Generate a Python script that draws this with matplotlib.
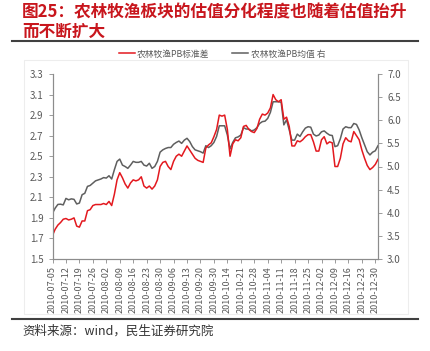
import matplotlib.pyplot as plt
from matplotlib.lines import Line2D
from matplotlib.patches import Rectangle
import numpy as np

plt.rcParams['font.family'] = ['Noto Sans CJK SC', 'DejaVu Sans']

# weekly tick labels on a trading-day axis (one label every 5 trading days)
tick_dates = ['2010-07-05', '2010-07-12', '2010-07-19', '2010-07-26', '2010-08-02',
              '2010-08-09', '2010-08-16', '2010-08-23', '2010-08-30', '2010-09-06',
              '2010-09-13', '2010-09-20', '2010-09-30', '2010-10-14', '2010-10-21',
              '2010-10-28', '2010-11-04', '2010-11-11', '2010-11-18', '2010-11-25',
              '2010-12-02', '2010-12-09', '2010-12-16', '2010-12-23', '2010-12-30']

# PB standard deviation (left axis), one value per trading day
pb_std = [1.73, 1.79, 1.83, 1.855, 1.887, 1.894, 1.88, 1.887, 1.90, 1.82,
          1.81, 1.87, 1.87, 1.97, 1.98, 2.02, 2.03, 2.03, 2.03, 2.04,
          2.03, 2.06, 2.02, 2.13, 2.27, 2.34, 2.29, 2.23, 2.19, 2.24,
          2.27, 2.26, 2.27, 2.30, 2.21, 2.19, 2.21, 2.18, 2.21, 2.27,
          2.40, 2.44, 2.45, 2.40, 2.37, 2.45, 2.50, 2.52, 2.50, 2.55,
          2.60, 2.56, 2.52, 2.48, 2.46, 2.45, 2.44, 2.58, 2.61, 2.63,
          2.69, 2.76, 2.90, 2.89, 2.90, 2.76, 2.50, 2.62, 2.66, 2.65,
          2.68, 2.79, 2.80, 2.76, 2.74, 2.73, 2.77, 2.86, 2.91, 2.90,
          2.92, 2.97, 3.10, 3.05, 3.03, 3.05, 2.86, 2.88, 2.79, 2.60,
          2.60, 2.65, 2.64, 2.66, 2.69, 2.71, 2.71, 2.64, 2.55, 2.55,
          2.66, 2.69, 2.62, 2.64, 2.63, 2.40, 2.40, 2.48, 2.62, 2.68,
          2.65, 2.64, 2.74, 2.70, 2.66, 2.56, 2.48, 2.41, 2.37, 2.39,
          2.42, 2.47]

# PB mean (right axis)
pb_mean = [3.99, 4.10, 4.18, 4.185, 4.17, 4.31, 4.28, 4.30, 4.29, 4.19,
           4.21, 4.39, 4.42, 4.57, 4.59, 4.64, 4.69, 4.71, 4.73, 4.76,
           4.75, 4.80, 4.73, 4.93, 5.11, 5.16, 5.03, 5.00, 4.96, 5.03,
           5.11, 5.09, 5.09, 5.11, 5.03, 5.01, 5.07, 4.96, 5.00, 5.11,
           5.31, 5.36, 5.39, 5.41, 5.41, 5.48, 5.52, 5.55, 5.50, 5.57,
           5.61, 5.54, 5.43, 5.36, 5.34, 5.32, 5.29, 5.45, 5.41, 5.45,
           5.52, 5.65, 5.88, 5.88, 5.88, 5.68, 5.38, 5.52, 5.62, 5.64,
           5.68, 5.84, 5.81, 5.81, 5.77, 5.79, 5.84, 5.93, 5.97, 5.98,
           6.04, 6.17, 6.40, 6.40, 6.40, 6.39, 5.90, 6.01, 5.79, 5.57,
           5.57, 5.70, 5.65, 5.75, 5.83, 5.86, 5.85, 5.70, 5.66, 5.68,
           5.75, 5.77, 5.72, 5.68, 5.67, 5.43, 5.45, 5.60, 5.81, 5.86,
           5.84, 5.84, 5.93, 5.91, 5.79, 5.62, 5.47, 5.32, 5.25, 5.31,
           5.34, 5.45]

RED = '#e3191f'
GRAY = '#5f5f5f'
TXT = '#595959'
AX = '#8c8c8c'

x = np.arange(len(pb_std))

fig = plt.figure(figsize=(4.3, 3.51), dpi=100)

# faint chart frame
fig.add_artist(Rectangle((24/430, 1-314/351), 384/430, 254/351, transform=fig.transFigure,
                         fill=False, edgecolor='#ededed', lw=0.8))

ax = fig.add_axes([52.5/430, 1-259/351, 325.5/430, 185/351])
ax2 = ax.twinx()

l1, = ax.plot(x, pb_std, color=RED, lw=1.1)
l2, = ax2.plot(x, pb_mean, color=GRAY, lw=1.1)
ax.set_zorder(ax2.get_zorder() + 1)
ax.patch.set_visible(False)

ax.set_xlim(0, len(x) - 1)
ax.set_ylim(1.5, 3.3)
ax.set_yticks(np.arange(1.5, 3.31, 0.2))
ax.set_yticklabels([f'{v:.1f}' for v in np.arange(1.5, 3.31, 0.2)])
ax2.set_ylim(3.0, 7.0)
ax2.set_yticks(np.arange(3.0, 7.01, 0.5))
ax2.set_yticklabels([f'{v:.1f}' for v in np.arange(3.0, 7.01, 0.5)])

ax.set_xticks(np.arange(0, len(tick_dates) * 5, 5))
ax.set_xticklabels(tick_dates, rotation=90)

for a in (ax, ax2):
    a.spines['top'].set_visible(False)
    for s in ('left', 'right', 'bottom'):
        a.spines[s].set_color(AX)
        a.spines[s].set_linewidth(0.8)
    a.tick_params(colors=AX, labelcolor=TXT, length=3, width=0.6, labelsize=7)
ax.tick_params(axis='x', labelsize=6.5, pad=2)

fig.legend([l1, l2], ['农林牧渔PB标准差', '农林牧渔PB均值 右'], loc='center',
           bbox_to_anchor=(222/430, 1-54/351), ncol=2, frameon=False, fontsize=6.3,
           labelcolor=TXT, handlelength=1.8, columnspacing=2.6, handletextpad=0.3)

fig.text(22/430, 1-3/351, '图25：农林牧渔板块的估值分化程度也随着估值抬升\n而不断扩大',
         ha='left', va='top', fontsize=12, fontweight='bold', color='#c8161d', linespacing=1.1)

fig.add_artist(Line2D([12/430, 418/430], [1-41/351]*2, color='#404040', lw=1.5))
fig.add_artist(Line2D([12/430, 418/430], [1-319/351]*2, color='#404040', lw=1.5))

fig.text(22/430, 1-331/351, '资料来源：wind，民生证券研究院', ha='left', va='center',
         fontsize=9, color='#333333')

fig.savefig('out.png', dpi=100)
